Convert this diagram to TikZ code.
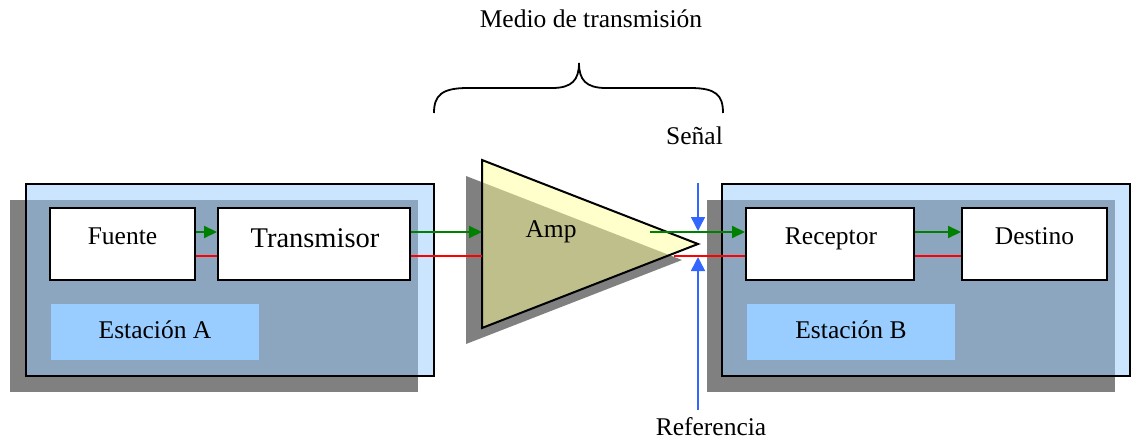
\documentclass[tikz,border=0pt]{standalone}
\usepackage{fontspec}
\setmainfont{Liberation Serif}
\usetikzlibrary{arrows.meta}

\definecolor{stblue}{RGB}{153,204,255}
\definecolor{shadowgray}{RGB}{128,128,128}
\definecolor{ampyellow}{RGB}{255,255,153}
\definecolor{siggreen}{RGB}{0,128,0}
\definecolor{sigred}{RGB}{255,0,0}
\definecolor{refblue}{RGB}{51,102,255}

\tikzset{
  txt/.style={font=\fontsize{25.5}{30}\selectfont, anchor=base, inner sep=0pt},
  bigtxt/.style={font=\fontsize{28.5}{34}\selectfont, anchor=base, inner sep=0pt},
  station/.style={draw=black, line width=2pt, fill=stblue, fill opacity=0.5,
    minimum width=408pt, minimum height=192pt, inner sep=0pt},
  block/.style={draw=black, line width=2pt, fill=white, minimum height=72pt, inner sep=0pt},
  namebox/.style={fill=stblue, minimum width=208pt, minimum height=56pt, inner sep=0pt},
  shadow/.style={fill=shadowgray},
  dataflow/.style={draw=siggreen, line width=2pt, -{Triangle[length=13pt,width=12pt]}},
  retline/.style={draw=sigred, line width=2pt},
  refarrow/.style={draw=refblue, line width=1.5pt, -{Triangle[length=14pt,width=14pt]}},
}

\begin{document}
\begin{tikzpicture}[x=1pt,y=-1pt]
\useasboundingbox (0,0) rectangle (1133,441);

% signal levels
\coordinate (gy) at (0,232);
\coordinate (ry) at (0,256);

% ---- Station A ----
\fill[shadow] (10,200) rectangle (418,392);
\node[station] (stA) at (230,280) {};
\node[block, minimum width=145pt] (fuente) at (122.5,244) {};
\node[block, minimum width=192pt] (trans) at (314,244) {};
\node[namebox] (labA) at (155,332) {};
\node[txt] (tFuente) at (122.5,244) {Fuente};
\node[bigtxt] (tTrans) at (315,247) {Transmisor};
\node[txt] (tLabA) at (155,338) {Estación A};

\draw[dataflow] (fuente.east |- gy) -- (trans.west |- gy);
\draw[retline] (fuente.east |- ry) -- (trans.west |- ry);

% ---- Amplifier ----
\coordinate (ampTL) at (482,160);
\coordinate (ampBL) at (482,328);
\coordinate (ampTip) at (698,244);
\coordinate (ampOutG) at (650,232);
\coordinate (ampOutR) at (674,256);

\fill[shadow] (466,176) -- (466,344) -- (682,260) -- cycle;
\filldraw[fill=ampyellow, fill opacity=0.5, draw=black, line width=2pt]
  (ampTL) -- (ampTip) -- (ampBL) -- cycle;
\node[txt] (tAmp) at (551,237) {Amp};

\draw[dataflow] (trans.east |- gy) -- (ampTL |- gy);
\draw[retline] (trans.east |- ry) -- (ampTL |- ry);

% ---- Station B ----
\fill[shadow] (707,200) rectangle (1115,392);
\node[station] (stB) at (926,280) {};
\node[block, minimum width=168pt] (recep) at (830,244) {};
\node[block, minimum width=145pt] (dest) at (1034.5,244) {};
\node[namebox] (labB) at (851,332) {};
\node[txt] (tRecep) at (831,244) {Receptor};
\node[txt] (tDest) at (1034.5,244) {Destino};
\node[txt] (tLabB) at (851,338) {Estación B};

\draw[dataflow] (ampOutG) -- (recep.west |- gy);
\draw[retline] (ampOutR) -- (recep.west |- ry);
\draw[dataflow] (recep.east |- gy) -- (dest.west |- gy);
\draw[retline] (recep.east |- ry) -- (dest.west |- ry);

% ---- signal / reference markers ----
\coordinate (sTop) at (698,183);
\coordinate (sTopTip) at (698,231);
\coordinate (rBot) at (698,410);
\coordinate (rBotTip) at (698,257);
\draw[refarrow] (sTop) -- (sTopTip);
\draw[refarrow] (rBot) -- (rBotTip);
\node[txt] (tSenal) at (694.5,145) {Señal};
\node[txt] (tRef) at (711,435) {Referencia};

% ---- transmission medium brace ----
\coordinate (brL) at (434,113);
\coordinate (brM) at (579,63);
\coordinate (brR) at (723,113);
\draw[line width=1.8pt]
  (brL) .. controls (434,95) and (442,88) .. (468,88) -- (552,88)
  .. controls (572,88) and (579,80) .. (brM)
  .. controls (579,80) and (586,88) .. (606,88) -- (690,88)
  .. controls (716,88) and (723,95) .. (brR);
\node[txt] (tMedio) at (591,28) {Medio de transmisión};
\end{tikzpicture}
\end{document}
